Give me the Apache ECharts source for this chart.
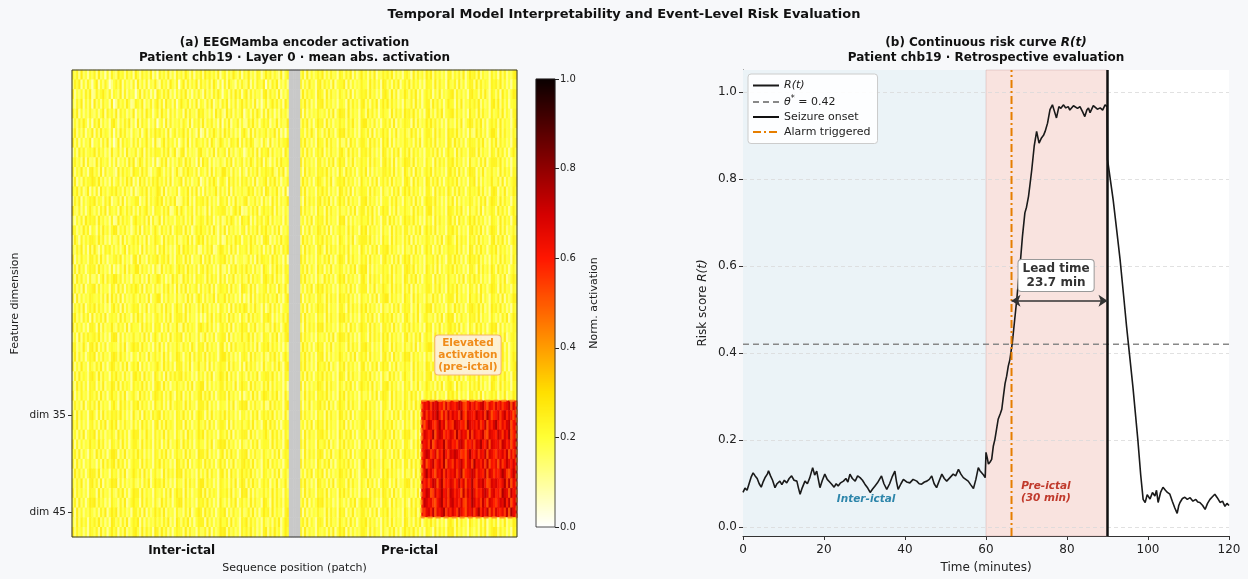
<!DOCTYPE html>
<html>
<head>
<meta charset="utf-8">
<title>Temporal Model Interpretability and Event-Level Risk Evaluation</title>
<script src="https://cdn.jsdelivr.net/npm/echarts@6.0.0/dist/echarts.min.js"></script>
<style>
  html, body { margin: 0; padding: 0; background: #f7f8fa; }
  #chart { width: 1248px; height: 579px; }
</style>
</head>
<body>
<div id="chart"></div>
<script>
// ---------------- data: (a) encoder activation heatmap ----------------
const segments = ['Inter-ictal', 'Pre-ictal'];
const nDims = 48;
const patchesPerSegment = 100;
const gapPatches = 5;
const dimTicks = [35, 45];
const activationTicks = [0, 0.2, 0.4, 0.6, 0.8, 1.0];
// elevated block (pre-ictal patches 56..99, dims 34..45)
const elevatedPatchFrom = 56;
const elevatedDimFrom = 34;
const elevatedDimTo = 45;

// one char per cell: '0'..'9' = background levels, 'a'..'j' = elevated levels
const interictalRows = [
  '7583946275 8394617285 4967385729 6385749261 8574936285 7496382758 3968574926 8375964827 5946387259 6847539268',
  '4869273851 6927485036 8592746381 9473826594 2857396480 6938475928 5748396271 8396527485 4927386590 7385926473',
  '9264738592 3857964827 6492837560 5938472619 7485936274 8593627485 2947385961 6738495827 9384756289 4857392647',
  '6385927481 9473856290 3857496238 7592648379 4829573816 9658374927 6384925738 5927483695 8473926158 3695847296',
  '8592736485 4736928574 9285736491 6483957268 3957284736 7294856397 8463729584 2958374691 5738496283 9472638574',
  '3748596271 8593746289 6274859361 9385726480 5729384657 4863927584 9375846291 7492658373 3859472686 8264937559',
  '5937482659 2849576381 7395846275 4826937596 8573926847 6948375291 3827596483 9584736279 6293847568 4759382617',
  '9482736591 6573849260 4928576384 8375946293 2694857371 5839274865 7482963597 4638759284 8597346285 2936485779',
  '2739584676 9485736294 5837294658 3692847587 7485936924 8927465389 5637492856 8294735761 4758392867 9384657296',
  '6857392845 3948657273 8264739592 5973846281 4859273648 7395846192 9682735475 3859274683 7496385928 5273849667',
  '8375946289 5739284664 2948576397 7495832658 9637482594 3859674827 6482937559 9573846285 2847593768 7694385926',
  '4926385779 8594736283 6837495926 2958374869 5748392657 9284736591 4738596278 6295847386 8473926579 3859472658',
  '7694835927 3829574686 9573846282 4685937569 8392746581 6759384927 2847569384 7392846575 5968374829 8475936291',
  '3859274687 9476385925 5839274668 8264937579 6937485923 4859372867 8593746287 5827394658 9365847284 6294837569',
  '9548372696 4738592865 7296485837 3857946287 7485923694 9637582847 5392846778 8463795924 3748592686 7592846375',
  '5274839687 8395746282 3948576279 6758392845 9284756377 5837492668 7495826383 4859736297 6927385847 9384657285',
  '8736495827 6284957379 9375846258 4928573696 3857492687 8394725869 6748395284 9285746378 2847593869 5738492657',
  '3962847588 7495836274 5829374685 8473926597 6294857384 4759382796 9384756282 3857496827 7495836289 8263749578',
  '6485937294 9527386847 4736928575 7293846582 8594736279 3968574823 7485923698 5739482766 8396574827 4829573869',
  '9274856388 5839472657 8593746289 3946285779 4785936287 7394826559 2859374687 9473825664 5837294876 7395846282',
  '4839572687 8395746282 6274938569 9485736284 2947586379 6839574827 8495736294 3728594685 9573846297 6284957387',
  '7395846284 4726938579 9583746285 5837294669 8472639584 3958472867 6394857294 8275936485 4938576289 7593846278',
  '5847392678 9384756287 3948275869 7492856384 6385947293 8493756828 4759382687 6839475298 7394826578 3857296494',
  '8293746587 6574839295 8392746586 4857392679 9274856384 5739482697 3847592866 9485736282 6293847585 8475936279',
  '3758492686 9485736279 5829374687 8374926585 4839572696 7294856384 9583746287 4729385869 8374956282 5938472677',
  '6947385829 3758492676 7394856284 9582746378 5738492688 8493756272 6284937595 7395846286 3948576287 9827364859',
  '9485736288 7293846595 4857392866 6394857287 8274936594 3948576289 7594836278 5839274697 8275936484 4839572698',
  '4729385867 8594736289 9283746585 5749382696 3857294687 9274856383 5937482678 8293746595 6948375287 7385926489',
  '7836495289 5937482676 6384925797 8495736284 9372846586 4857396287 8394756289 3729485668 5847392687 9485736274',
  '5938472687 9274856389 8495736276 3857294685 7394826598 6275938487 4938576289 9584736278 7294856384 3859472696',
  '8374956286 4859372698 5738492686 9284736579 6395847288 8374926595 5829374687 7394856282 9485736294 6738495289',
  '2849576389 7394856286 9573846289 6839475297 4729385868 9485736285 7384925698 5938472686 3847592678 8594736287',
  '6395847287 8274936598 4938576286 7594836289 8394726586 5738492679 9283746588 4857392697 7294856385 9384756272',
  '9274856387 5839472696 7384925685 3958472698 6837495286 9274836589 4859372687 8395746282 5739482698 7485936295',
  '4857392685 8394756279 6295847387 9485736296 5837294687 7394856288 8593746276 6384925798 9274856383 3948576289',
  '7394856289 6283947587 8594736295 4829573868 9385746287 5947382698 7283946585 9485736277 4738592686 8593746294',
  '8593746278 4738592696 9274856384 7395846289 3849576287 8294736596 5839472688 7293846585 6849375289 4958372687',
  '5738492687 9284736586 3958472698 8374956285 7493856286 4829573697 9385746287 5839274688 8294736579 6395847286',
  '9283746596 7495836287 5839472688 6394857285 8274936597 3958472686 6384925798 9485736285 4738592677 7394856289',
  '6849375286 3958472699 8274936585 9583746287 4859372686 7394856298 8593746279 3849572688 9274856386 5738492687',
  '8394726585 6273948589 4958372687 7394856286 9485736298 5839274687 3958472695 8274936589 6849375286 9385746278',
  '3958472698 8493756286 7384925697 5839472685 6294857398 9385746284 7493856289 4829573696 8594736287 5738492685',
  '7485936289 5839274698 9283746585 4738592697 8594736286 6394857289 9485736287 5738492698 3849572686 8274936594',
  '9385746287 7294856385 4859372698 8394756286 5738492697 8294736589 4938576287 6849375298 9283746585 7394856286',
  '5839472698 9485736286 6384925797 7294856385 3958472689 9385746287 8594736296 4738592685 7394856298 6294857387',
  '8294736586 4738592697 9385746288 5839274696 8493756285 6384925798 3958472687 9274856384 5849372697 8394756289',
  '6394857286 8594736298 5738492687 9283746585 7485936297 4859372688 8294736596 6839475287 9485736285 4738592698',
  '9485736287 5839472696 8274936589 6394857298 4958372687 7394856285 5839274698 9385746286 8594736289 3849572697'
];

const preictalRows = [
  '5829374686 9374856287 4859273695 7384926586 8593746278 6294857396 9385746288 3758492697 8493756285 7294836589',
  '8374956289 4857392677 9283746586 6395847298 4738592685 9485736287 7394856296 5839472688 3948576287 8594736276',
  '3948576298 7294856386 5839274687 8495736289 7394826597 4859372686 8274936578 9385746289 6738495287 4829573698',
  '7594836288 9385746277 6294857389 4738592696 9485736285 5839472688 3958472697 7284936586 8593746289 5938472677',
  '9283746586 5738492698 8394756287 3958472686 6294857397 8594736289 4738592678 9485736296 7394856285 6849375288',
  '4859372697 8294736586 7385946289 9574836278 5839274687 7293846596 9584736285 6384925798 4859372686 8394756279',
  '6738495286 3849572698 9485736287 5839274696 8274936585 4958372688 7394856297 8594736284 3958472699 7294856386',
  '8594736297 7394856284 4829573688 6395847296 9283746587 5738492686 8493756298 3958472687 7485936285 9385746288',
  '5839472686 9274856389 6394857287 8594736298 4738592685 9385746277 5849372696 7294856388 8394756287 4958372696',
  '9385746288 4738592697 8274936586 7394856289 5839274698 8493756286 6294857387 9485736295 5738492688 8594736276',
  '7294856387 8594736296 3958472685 9283746588 6849375297 4829573686 9385746289 5839472698 8274936585 6394857287',
  '4958372698 6384925787 9485736296 5738492685 8394756289 7294856298 4859372686 8593746287 9283746595 5839274688',
  '8493756286 9583746298 5839274687 7394856285 4738592696 9485736288 6294857397 3849572686 7594836289 8274936597',
  '6294857389 4859372696 8394756288 9485736277 7385946286 5839472698 8594736285 9283746587 4738592698 7394856286',
  '9485736296 7294856385 5738492688 4859372697 8274936586 6394857289 9385746298 7485936285 5839274687 3958472696',
  '5738492687 8394756298 9283746586 6849375288 3958472697 8594736285 7294856389 4829573696 9485736287 6394857288',
  '8274936598 5839274686 7394856297 9385746285 6294857388 4738592696 8493756287 9583746289 5849372698 7294836585',
  '3958472686 9485736297 6384925788 8594736296 7294856385 9283746587 5738492698 6394857286 8394756289 4859372697',
  '7394856289 6294857386 8493756297 4738592688 9485736285 5839472696 8274936587 7594836298 3849572686 9385746287',
  '9583746287 4859372698 7294856386 8394756289 5738492697 9385746286 6849375288 4958372697 8594736285 7394856296',
  '6849375296 8274936587 4738592698 9283746586 7394856289 8593746297 5839274686 9485736288 6294857397 3958472685',
  '8594736285 3958472697 9385746289 6294857386 8493756298 4859372687 7294856396 5738492685 9583746288 6384925797',
  '4738592697 9485736286 5839472688 8274936597 6394857285 9283746588 7385946296 8594736287 4829573698 7294856386',
  '9274856388 6394857297 8594736286 5738492689 9385746297 7294856385 4958372688 8394756296 6849375287 5839274698',
  '5839274697 8493756288 6294857396 9485736285 4738592687 8274936598 9385746286 3958472689 7594836297 8594736286',
  '8394756286 7294856398 9583746287 4859372696 8594736289 6384925785 5738492698 9274856387 8493756286 4738592697',
  '6294857398 9385746286 4829573697 7394856288 5839472685 9485736297 8274936589 6849375286 3958472698 9283746587',
  '9485736286 5738492698 8594736287 6294857396 9385746289 4738592686 7294856397 8493756288 5839274695 7384925786',
  '4958372697 8274936586 6394857288 9583746297 7294856385 5839274689 9485736296 6849375287 8394756298 4859372686',
  '7594836288 9283746597 5738492686 8394756289 4829573698 9385746285 6294857387 7394856296 9485736288 5839472697',
  '8594736297 6849375286 9385746289 4738592697 8274936586 7294856398 5839472685 9485736287 6394857296 4958372689',
  '5839472686 9485736298 7294856387 8594736285 3958472696 6294857388 9283746597 4859372686 8394756289 7385946298',
  '9283746598 7394856286 4859372697 6849375288 9485736286 8274936597 5738492689 7294856385 8594736298 6394857287',
  '6394857287 8594736296 9385746285 5738492698 7294856387 4958372686 8493756297 9583746288 5839274686 8274936597',
  '8274936589 5839472697 7394856286 9485736288 6294857397 483957 egfh dhgiefchdg fegihdcfhe gdfhiecgfd hegdfgiche',
  '9485736286 7294856398 5839274687 8594736296 4738592685 829374 fhdg ehgjfcgdie hfgdjechgf eigfhdjgce fhdgiehfcg',
  '5738492697 8394756286 9283746588 6294857396 8594736285 739485 gcfi hedgjfhcge dihgefcjhf gehdficgeh jfdgehicfg',
  '7294856388 9583746297 4859372686 8274936589 5839472698 946283 dhge fjcgihdfeh gdjehfgcid hfegidchgf eigdhfjceg',
  '8493756296 6849375285 9485736287 5738492696 7394856288 628495 hfgd icehgfjdgh efdhigcfeg dhgjfeichg fgdihegcfh',
  '6294857389 8274936597 5839274686 9385746288 4738592697 857394 egih dfhcgejfdh gihfdecgjf ehdgfichge dgfheicgdh',
  '9385746297 4859372686 8594736289 7294856396 6394857288 394857 fhce gidfhejcgf dhegifcghd jfgehdicfe gchdfigehf',
  '4738592686 9283746598 6849375287 8394756296 9485736285 582947 dgjf hecgfidheg fhdgjcefgi hdgfeichgd fegjhdcfig',
  '8594736298 5738492687 7394856286 4958372697 8274936589 938475 hegd fihcgjdfeh gdfiehcgfj edhgifcdhg hfegjdicgf',
  '7394856287 8493756296 9583746285 6294857398 5839472686 746392 gfih cdhegjfgdi hegfcidhfj gdfehigcgh efdjhgcifg',
  '5839274698 9485736286 4738592697 8594736288 7294856385 294857 eihf gdcfhjegdh ifgehdcgfj hegdifchge dfhgjeicfh',
  '9283746586 6394857297 8274936588 5738492686 9385746297 485936 fdgh eicgfhjdge hfdigecgfh dgjehficgd hfegdicjgf',
  '6849375288 7294856396 5839472687 9485736285 8394756298 4738592686 9583746289 7394856297 5738492685 8274936598',
  '8394756286 5738492697 9283746588 7394856285 4859372696 8594736287 6294857398 9385746286 4738592689 9485736297'
];

// ---------------- data: (b) continuous risk curve ----------------
const riskCurve = [
  [0, 0.080], [0.5, 0.090], [1, 0.085], [1.5, 0.100], [2, 0.115], [2.5, 0.125], [3, 0.118], [3.5, 0.112],
  [4, 0.100], [4.5, 0.092], [5, 0.105], [5.5, 0.115], [6, 0.122], [6.3, 0.130], [6.8, 0.118], [7.3, 0.108],
  [7.9, 0.091], [8.4, 0.100], [9.1, 0.106], [9.6, 0.098], [10.2, 0.108], [10.8, 0.102], [11.4, 0.112], [12, 0.118],
  [12.6, 0.108], [13.3, 0.106], [13.7, 0.090], [14.1, 0.076], [14.6, 0.090], [15.3, 0.106], [15.9, 0.100], [16.5, 0.114],
  [17.2, 0.137], [17.7, 0.120], [18.2, 0.129], [18.6, 0.110], [19.0, 0.091], [19.6, 0.108], [20.2, 0.122], [20.8, 0.110],
  [21.4, 0.104], [21.9, 0.099], [22.5, 0.092], [23, 0.100], [23.5, 0.095], [24.1, 0.102], [24.8, 0.106], [25.4, 0.112],
  [25.9, 0.104], [26.4, 0.122], [27, 0.112], [27.7, 0.106], [28.3, 0.118], [28.9, 0.114], [29.5, 0.108], [30.1, 0.099],
  [30.8, 0.090], [31.4, 0.080], [32, 0.088], [32.6, 0.095], [33.2, 0.102], [33.7, 0.110], [34.2, 0.118], [34.8, 0.100],
  [35.5, 0.087], [36.2, 0.100], [36.8, 0.115], [37.5, 0.129], [37.9, 0.105], [38.3, 0.087], [39, 0.100], [39.6, 0.110],
  [40.4, 0.104], [41.2, 0.102], [42, 0.110], [42.9, 0.106], [43.5, 0.100], [44.1, 0.099], [44.8, 0.104], [45.4, 0.106],
  [46, 0.110], [46.6, 0.118], [47.2, 0.100], [47.8, 0.091], [48.5, 0.108], [49.1, 0.122], [49.7, 0.112], [50.3, 0.106],
  [51.1, 0.114], [51.9, 0.122], [52.5, 0.118], [53.2, 0.133], [53.8, 0.122], [54.4, 0.114], [55, 0.110], [55.6, 0.106],
  [56.2, 0.098], [56.9, 0.089], [57.5, 0.110], [58.1, 0.137], [58.5, 0.130], [58.9, 0.129], [59.4, 0.120], [59.8, 0.114],
  [60.0, 0.172], [60.3, 0.160], [60.6, 0.145], [61.0, 0.150], [61.4, 0.156], [61.8, 0.186], [62.2, 0.202], [62.6, 0.225],
  [63.0, 0.248], [63.5, 0.260], [63.9, 0.271], [64.3, 0.301], [64.7, 0.330], [65.1, 0.347], [65.5, 0.370], [65.9, 0.385],
  [66.5, 0.424], [67.0, 0.469], [67.6, 0.523], [68.0, 0.565], [68.4, 0.600], [69.0, 0.668], [69.6, 0.722], [70.0, 0.735],
  [70.5, 0.760], [70.9, 0.790], [71.3, 0.821], [71.9, 0.875], [72.5, 0.909], [73.1, 0.882], [73.7, 0.894], [74.2, 0.900],
  [74.6, 0.909], [75.2, 0.928], [75.8, 0.959], [76.4, 0.970], [76.9, 0.955], [77.4, 0.940], [78.0, 0.966], [78.5, 0.962],
  [79.1, 0.970], [79.7, 0.963], [80.3, 0.966], [80.7, 0.958], [81.1, 0.955], [81.6, 0.968], [82.0, 0.970], [82.6, 0.962],
  [83.2, 0.966], [83.8, 0.955], [84.4, 0.943], [84.9, 0.958], [85.3, 0.963], [85.7, 0.952], [86.1, 0.955], [86.5, 0.968],
  [86.9, 0.966], [87.5, 0.960], [88.2, 0.963], [88.8, 0.958], [89.4, 0.970], [89.9, 0.966], [90.0, 0.845], [90.2, 0.844],
  [91.4, 0.752], [92.3, 0.680], [93.1, 0.615], [94.0, 0.530], [94.7, 0.462], [95.4, 0.400], [96.3, 0.320], [97.5, 0.200],
  [98.2, 0.120], [98.8, 0.064], [99.3, 0.057], [99.8, 0.075], [100.5, 0.065], [101.1, 0.080], [101.7, 0.072], [102.1, 0.085],
  [102.5, 0.057], [103.1, 0.080], [103.7, 0.092], [104.3, 0.085], [104.8, 0.080], [105.4, 0.076], [106.0, 0.060], [106.6, 0.045],
  [107.2, 0.032], [107.6, 0.050], [107.9, 0.057], [108.5, 0.066], [109.1, 0.069], [109.7, 0.064], [110.4, 0.068], [111.1, 0.060],
  [111.8, 0.064], [112.3, 0.058], [112.8, 0.057], [113.5, 0.050], [114.1, 0.041], [114.7, 0.055], [115.3, 0.064], [115.9, 0.070],
  [116.5, 0.076], [117.1, 0.068], [117.8, 0.057], [118.4, 0.060], [119.0, 0.048], [119.5, 0.055], [120, 0.050]
];
const riskTicks = [0, 0.2, 0.4, 0.6, 0.8, 1.0];
const threshold = 0.42;
const alarmTime = 66.3;
const seizureOnset = 90;
const leadTime = 23.7;
const interictalBand = [0, 60];
const preictalBand = [60, 90];

// ---------------- build ----------------
const FONT = 'DejaVu Sans';
// matplotlib hot_r sampled at 0, 0.1 ... 1.0
const hotR = ['#ffffff', '#ffff9b', '#ffff36', '#ffe000', '#ff9d00', '#ff5a00',
              '#ff1700', '#d30000', '#910000', '#4e0000', '#0b0000'];

function levelValue(ch) {
  const c = ch.charCodeAt(0);
  if (c >= 48 && c <= 57) return 0.06 + 0.022 * (c - 48);
  return 0.45 + 0.034 * (c - 97);
}

const preOffset = patchesPerSegment + gapPatches;
const nPatches = patchesPerSegment * 2 + gapPatches;
const patchCats = Array.from({ length: nPatches }, (_, i) => String(i));
const dimCats = Array.from({ length: nDims }, (_, i) => 'dim ' + i);
const segCenters = segments.map((_, s) => s * preOffset + patchesPerSegment / 2);

const cells = [];
interictalRows.forEach((row, d) => {
  row.replace(/\s/g, '').split('').slice(0, patchesPerSegment)
    .forEach((ch, p) => cells.push([p, d, levelValue(ch)]));
});
preictalRows.forEach((row, d) => {
  row.replace(/\s/g, '').split('').slice(0, patchesPerSegment)
    .forEach((ch, p) => cells.push([preOffset + p, d, levelValue(ch)]));
});
const gapCells = [];
for (let d = 0; d < nDims; d++) {
  for (let g = 0; g < gapPatches; g++) gapCells.push([patchesPerSegment + g, d, 0]);
}

// outline of the elevated block, on the hidden value axes of panel (a)
const bx0 = preOffset + elevatedPatchFrom, bx1 = nPatches - 0.15;
const by0 = elevatedDimFrom, by1 = elevatedDimTo + 1;
const blockOutline = [[bx0, by0], [bx1, by0], [bx1, by1], [bx0, by1], [bx0, by0]];

// colorbar ramp (2 px per step)
const cbSteps = 224;
const cbCats = Array.from({ length: cbSteps }, (_, i) => String(i));
const cbCells = Array.from({ length: cbSteps }, (_, i) => [0, i, (i + 0.5) / cbSteps]);

const axisGrey = '#333333';
const labelGrey = '#222222';

const chart = echarts.init(document.getElementById('chart'));
chart.setOption({
  backgroundColor: '#f7f8fa',
  animation: false,
  textStyle: { fontFamily: FONT },
  graphic: [
    { type: 'text', x: 624, y: 8, silent: true,
      style: { text: 'Temporal Model Interpretability and Event-Level Risk Evaluation',
               font: 'bold 13px "DejaVu Sans"', fill: '#111', align: 'center', verticalAlign: 'top' } },
    { type: 'text', x: 294.5, y: 35, silent: true,
      style: { text: '(a) EEGMamba encoder activation\nPatient chb19 · Layer 0 · mean abs. activation',
               font: 'bold 12px "DejaVu Sans"', lineHeight: 15, fill: '#111', align: 'center', verticalAlign: 'top' } },
    { type: 'text', x: 986, y: 35, silent: true,
      style: { text: '{b|(b) Continuous risk curve }{bi|R(t)}\n{b|Patient chb19 · Retrospective evaluation}',
               align: 'center', verticalAlign: 'top',
               rich: {
                 b: { fontFamily: FONT, fontWeight: 'bold', fontSize: 12, fill: '#111', lineHeight: 15 },
                 bi: { fontFamily: FONT, fontWeight: 'bold', fontStyle: 'italic', fontSize: 12, fill: '#111', lineHeight: 15 }
               } } }
  ],
  grid: [
    { left: 72, top: 70, width: 445, height: 467, show: true, z: 10,
      backgroundColor: 'transparent', borderColor: axisGrey, borderWidth: 1 },
    { left: 536, top: 79, width: 19, height: 448, show: true, z: 10,
      backgroundColor: 'transparent', borderColor: '#222', borderWidth: 0.8 },
    { left: 743, top: 70, width: 486, height: 467, show: true,
      backgroundColor: '#ffffff', borderWidth: 0 }
  ],
  visualMap: {
    type: 'continuous', show: false, min: 0, max: 1, dimension: 2,
    seriesIndex: [0, 3], inRange: { color: hotR }
  },
  legend: {
    data: ['R(t)', 'θ* = 0.42', 'Seizure onset', 'Alarm triggered'],
    orient: 'vertical', left: 748, top: 74,
    itemWidth: 26, itemHeight: 12, itemGap: 4,
    padding: [6, 7, 6, 4],
    backgroundColor: 'rgba(255,255,255,0.9)', borderColor: '#cccccc', borderWidth: 1, borderRadius: 3,
    selectedMode: false,
    itemStyle: { color: 'rgba(0,0,0,0)', borderWidth: 0, opacity: 0 },
    textStyle: {
      fontSize: 11, color: labelGrey,
      rich: {
        it: { fontStyle: 'italic', fontSize: 11, color: labelGrey },
        sup: { fontSize: 8, color: labelGrey, padding: [0, 0, 6, 0] },
        n: { fontSize: 11, color: labelGrey }
      }
    },
    formatter: function (name) {
      if (name === 'R(t)') return '{it|R(t)}';
      if (name.indexOf('θ') === 0) return '{it|θ}{sup|*}{n| = ' + threshold.toFixed(2) + '}';
      return name;
    }
  },
  xAxis: [
    { gridIndex: 0, type: 'category', data: patchCats,
      axisLine: { show: false },
      axisTick: { show: true, alignWithLabel: true, length: 4, lineStyle: { color: axisGrey },
                  interval: (i) => segCenters.includes(i) },
      axisLabel: { interval: (i) => segCenters.includes(i),
                   formatter: (v, i) => segments[segCenters.indexOf(i)] || '',
                   fontSize: 12, fontWeight: 'bold', color: '#111', margin: 8 },
      splitLine: { show: false },
      name: 'Sequence position (patch)', nameLocation: 'middle', nameGap: 26,
      nameTextStyle: { fontSize: 11, color: labelGrey } },
    { gridIndex: 0, type: 'value', min: 0, max: nPatches, show: false },
    { gridIndex: 1, type: 'category', data: ['cb'], show: false },
    { gridIndex: 2, type: 'value', min: 0, max: 120, interval: 20,
      axisLine: { show: true, onZero: false, lineStyle: { color: axisGrey } },
      axisTick: { show: true, length: 4, lineStyle: { color: axisGrey } },
      axisLabel: { fontSize: 12, color: labelGrey, margin: 8 },
      splitLine: { show: false },
      name: 'Time (minutes)', nameLocation: 'middle', nameGap: 26,
      nameTextStyle: { fontSize: 12, color: labelGrey } }
  ],
  yAxis: [
    { gridIndex: 0, type: 'category', data: dimCats, inverse: true,
      axisLine: { show: false },
      axisTick: { show: true, alignWithLabel: true, length: 4, lineStyle: { color: axisGrey },
                  interval: (i) => dimTicks.includes(i) },
      axisLabel: { interval: (i) => dimTicks.includes(i), fontSize: 10.5, color: labelGrey, margin: 6 },
      splitLine: { show: false },
      name: 'Feature dimension', nameLocation: 'middle', nameGap: 51, nameRotate: 90,
      nameTextStyle: { fontSize: 11, color: labelGrey } },
    { gridIndex: 0, type: 'value', min: 0, max: nDims, inverse: true, show: false },
    { gridIndex: 1, type: 'category', data: cbCats, show: false },
    { gridIndex: 1, type: 'value', min: 0, max: 1, interval: 0.2, position: 'right',
      axisLine: { show: false },
      axisTick: { show: true, length: 4, lineStyle: { color: '#222' } },
      axisLabel: { fontSize: 10, color: labelGrey, margin: 5, formatter: (v) => v.toFixed(1) },
      splitLine: { show: false },
      name: 'Norm. activation', nameLocation: 'middle', nameGap: 34, nameRotate: 90,
      nameTextStyle: { fontSize: 11, color: labelGrey } },
    { gridIndex: 2, type: 'value', min: -0.02, max: 1.05,
      axisLine: { show: true, onZero: false, lineStyle: { color: axisGrey } },
      axisTick: { show: true, length: 4, customValues: riskTicks, lineStyle: { color: axisGrey } },
      axisLabel: { customValues: riskTicks, formatter: (v) => v.toFixed(1), fontSize: 12, color: labelGrey, margin: 6 },
      splitLine: { show: false },
      name: 'Risk score {i|R(t)}', nameLocation: 'middle', nameGap: 34, nameRotate: 90,
      nameTextStyle: { fontSize: 12, color: labelGrey,
                       rich: { i: { fontStyle: 'italic', fontSize: 12, color: labelGrey } } } }
  ],
  series: [
    // 0: activation heatmap
    { name: 'activation', type: 'heatmap', xAxisIndex: 0, yAxisIndex: 0, data: cells,
      progressive: 0, silent: true, emphasis: { disabled: true } },
    // 1: gap between segments
    { name: 'gap', type: 'heatmap', xAxisIndex: 0, yAxisIndex: 0, data: gapCells,
      progressive: 0, silent: true, itemStyle: { color: '#c8c8c8' }, emphasis: { disabled: true } },
    // 2: elevated block outline + annotation
    { type: 'line', xAxisIndex: 1, yAxisIndex: 1, data: blockOutline, silent: true, z: 6,
      symbol: 'none', smooth: false,
      lineStyle: { color: 'rgba(255,140,26,0.9)', width: 2, type: [5, 3] },
      markPoint: {
        silent: true, z: 9, symbol: 'rect', symbolSize: 1, itemStyle: { color: 'rgba(0,0,0,0)' },
        data: [{ coord: [182.4, 29.3] }],
        label: { show: true, position: 'inside', formatter: 'Elevated\nactivation\n(pre-ictal)',
                 fontFamily: FONT, fontSize: 10.5, fontWeight: 'bold', color: '#f08c1a', lineHeight: 12,
                 align: 'center', backgroundColor: 'rgba(253,240,222,0.92)', borderColor: '#f3b46a',
                 borderWidth: 1, borderRadius: 3, padding: [2, 3, 1, 3] }
      } },
    // 3: colorbar ramp
    { type: 'heatmap', xAxisIndex: 2, yAxisIndex: 2, data: cbCells, progressive: 0, silent: true,
      emphasis: { disabled: true } },
    // 4: phase bands
    { type: 'line', xAxisIndex: 3, yAxisIndex: 4, data: [], silent: true, z: 1,
      markArea: {
        silent: true, z: 1,
        data: [
          [{ xAxis: interictalBand[0], itemStyle: { color: '#ebf3f7' } }, { xAxis: interictalBand[1] }],
          [{ xAxis: preictalBand[0], itemStyle: { color: '#f9e3df', borderColor: 'rgba(190,150,150,0.35)', borderWidth: 1 } },
           { xAxis: preictalBand[1] }]
        ]
      } },
    // 5: dashed horizontal grid
    { type: 'line', xAxisIndex: 3, yAxisIndex: 4, data: [], silent: true, z: 2,
      markLine: {
        silent: true, z: 2, symbol: ['none', 'none'], label: { show: false },
        lineStyle: { color: '#d9d9d9', width: 0.8, type: [4, 3] },
        data: riskTicks.map((v) => ({ yAxis: v }))
      } },
    // 6: risk curve
    { name: 'R(t)', type: 'line', xAxisIndex: 3, yAxisIndex: 4, data: riskCurve,
      symbol: 'none', showSymbol: false, silent: true, z: 5,
      lineStyle: { color: '#1a1a1a', width: 1.6 }, itemStyle: { color: '#1a1a1a' } },
    // 7: threshold
    { name: 'θ* = 0.42', type: 'line', xAxisIndex: 3, yAxisIndex: 4,
      data: [[0, threshold], [120, threshold]], symbol: 'none', silent: true, z: 4,
      lineStyle: { color: '#888888', width: 1.5, type: [6, 4] }, itemStyle: { color: '#888888' } },
    // 8: seizure onset
    { name: 'Seizure onset', type: 'line', xAxisIndex: 3, yAxisIndex: 4,
      data: [[seizureOnset, -0.02], [seizureOnset, 1.05]], symbol: 'none', silent: true, z: 6,
      lineStyle: { color: '#111111', width: 2.5 }, itemStyle: { color: '#111111' } },
    // 9: alarm
    { name: 'Alarm triggered', type: 'line', xAxisIndex: 3, yAxisIndex: 4,
      data: [[alarmTime, -0.02], [alarmTime, 1.05]], symbol: 'none', silent: true, z: 6,
      lineStyle: { color: '#e67e00', width: 2, type: [8, 3, 2, 3] }, itemStyle: { color: '#e67e00' } },
    // 10: annotations
    { type: 'line', xAxisIndex: 3, yAxisIndex: 4, data: [], silent: true, z: 7,
      markLine: {
        silent: true, z: 7, symbol: ['arrow', 'arrow'], symbolSize: 9, label: { show: false },
        lineStyle: { color: '#333333', width: 1.5, type: 'solid' },
        data: [[{ coord: [alarmTime, 0.52] }, { coord: [seizureOnset, 0.52] }]]
      },
      markPoint: {
        silent: true, z: 8, symbol: 'rect', symbolSize: 1, itemStyle: { color: 'rgba(0,0,0,0)' },
        data: [
          { coord: [77.3, 0.578],
            label: { show: true, position: 'inside', formatter: 'Lead time\n' + leadTime.toFixed(1) + ' min',
                     fontFamily: FONT, fontSize: 12, fontWeight: 'bold', color: '#333', lineHeight: 14, align: 'center',
                     backgroundColor: '#ffffff', borderColor: '#999999', borderWidth: 1, borderRadius: 3,
                     padding: [2, 4, 1, 4] } },
          { coord: [30.4, 0.064],
            label: { show: true, position: 'inside', formatter: 'Inter-ictal',
                     fontFamily: FONT, fontSize: 10.5, fontWeight: 'bold', fontStyle: 'italic', color: '#2e86ab' } },
          { coord: [74.8, 0.08],
            label: { show: true, position: 'inside', formatter: 'Pre-ictal\n(30 min)', align: 'center',
                     fontFamily: FONT, fontSize: 10.5, fontWeight: 'bold', fontStyle: 'italic', color: '#c0392b',
                     lineHeight: 12 } }
        ]
      } }
  ]
});
</script>
</body>
</html>
